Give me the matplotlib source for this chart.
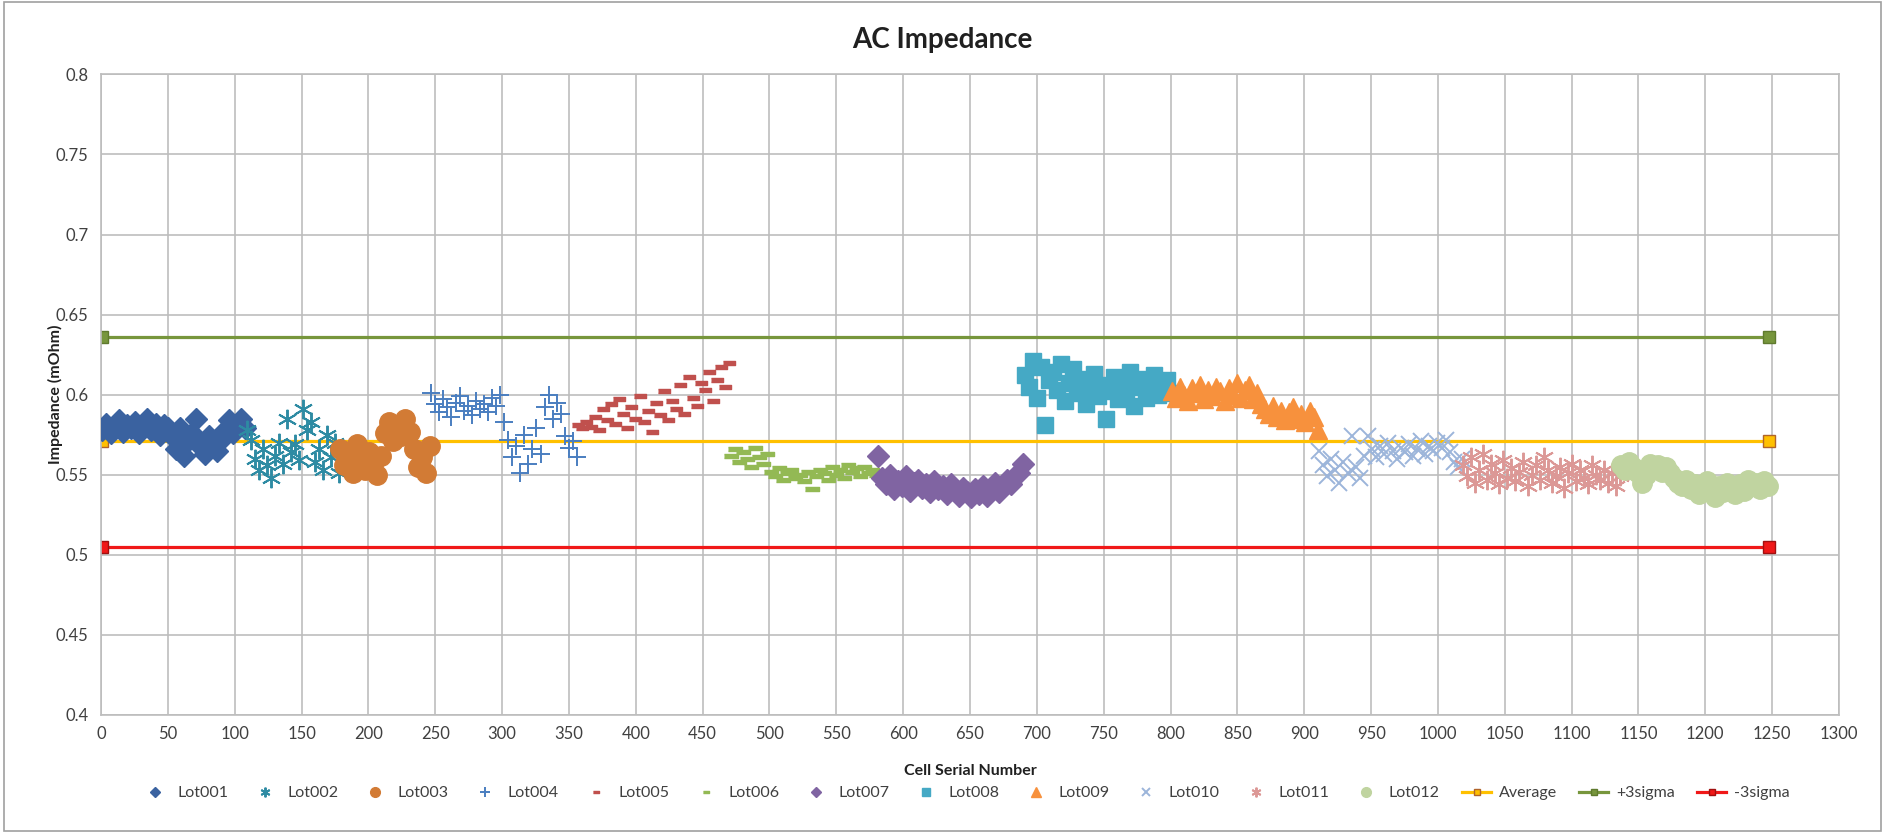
"""AC impedance per cell, grouped by production lot."""

import numpy as np
import matplotlib
matplotlib.use("Agg")
import matplotlib.pyplot as plt
from matplotlib.patches import Rectangle

plt.rcParams['font.family'] = ['Lato', 'DejaVu Sans']

# ---- data --------------------------------------------------------------
lot_names = ["Lot001", "Lot002", "Lot003", "Lot004", "Lot005", "Lot006",
             "Lot007", "Lot008", "Lot009", "Lot010", "Lot011", "Lot012"]

# first / last cell serial number of each lot
lot_first = [1, 109, 179, 247, 357, 471, 581, 691, 801, 911, 1019, 1137]
lot_last = [108, 178, 246, 356, 470, 580, 690, 800, 910, 1018, 1136, 1247]

lot001 = [0.578, 0.582, 0.576, 0.580, 0.584, 0.577, 0.581, 0.579, 0.583,
          0.576, 0.580, 0.585, 0.578, 0.582, 0.575, 0.581, 0.579,
          0.574, 0.566, 0.579, 0.562, 0.571, 0.576, 0.585, 0.568, 0.563,
          0.574, 0.570, 0.565, 0.572,
          0.578, 0.584, 0.576, 0.582, 0.585, 0.579]
lot002 = [0.578, 0.572, 0.560, 0.553, 0.566, 0.556,
          0.548, 0.562, 0.570, 0.557, 0.585, 0.564, 0.569, 0.559,
          0.591, 0.578, 0.583, 0.558, 0.566, 0.553, 0.575, 0.561, 0.570, 0.551]
lot003 = [0.566, 0.556, 0.561, 0.551, 0.569, 0.559, 0.553, 0.564, 0.557,
          0.550, 0.562,
          0.576, 0.583, 0.571, 0.579, 0.574, 0.585, 0.577,
          0.566, 0.555, 0.561, 0.551, 0.568]
lot004 = [0.601, 0.594, 0.589, 0.597, 0.592, 0.586, 0.595, 0.599, 0.590,
          0.593, 0.587, 0.596, 0.591, 0.594, 0.589, 0.598, 0.593, 0.600,
          0.583, 0.572, 0.561, 0.568, 0.551, 0.575, 0.557, 0.566, 0.579,
          0.563,
          0.592, 0.600, 0.585, 0.595, 0.588,
          0.574, 0.567, 0.571, 0.561]
lot005 = [0.581, 0.579, 0.583, 0.580, 0.586, 0.578, 0.591, 0.584,
          0.594, 0.582, 0.597, 0.588, 0.579, 0.592, 0.585, 0.599, 0.583,
          0.590, 0.577, 0.595, 0.587,
          0.602, 0.584, 0.596, 0.591, 0.606, 0.588, 0.611, 0.598, 0.593,
          0.607, 0.603, 0.614, 0.596, 0.609, 0.617, 0.605, 0.620]
lot006 = [0.562, 0.566, 0.558, 0.564, 0.560, 0.555, 0.567, 0.561, 0.557,
          0.563,
          0.552, 0.549, 0.554, 0.547, 0.551, 0.553, 0.548, 0.550, 0.546,
          0.552, 0.541, 0.549, 0.553, 0.551, 0.547, 0.555, 0.550, 0.553,
          0.548, 0.556, 0.552, 0.554, 0.549, 0.555, 0.551, 0.553, 0.550]
lot007 = [0.562, 0.548, 0.544, 0.550, 0.541, 0.546, 0.543, 0.549, 0.540,
          0.545, 0.547, 0.542, 0.544, 0.539, 0.546, 0.541, 0.543, 0.538,
          0.544, 0.540, 0.537, 0.542, 0.539, 0.536, 0.541, 0.538, 0.543,
          0.537, 0.540, 0.545, 0.539, 0.543, 0.547, 0.544, 0.549, 0.551,
          0.557]
lot008 = [0.612, 0.605, 0.621, 0.598, 0.617, 0.581, 0.609, 0.614, 0.603,
          0.619, 0.596, 0.607, 0.616, 0.601, 0.610, 0.594, 0.604, 0.613,
          0.599, 0.606, 0.585, 0.602, 0.611, 0.597, 0.608, 0.603, 0.614,
          0.593, 0.605, 0.610, 0.598, 0.607, 0.612, 0.600, 0.604, 0.609,
          0.601]
lot009 = [0.602, 0.598, 0.605, 0.600, 0.596, 0.604, 0.601, 0.606, 0.597,
          0.603, 0.599, 0.605, 0.602, 0.596, 0.604, 0.600, 0.607, 0.598,
          0.603, 0.606, 0.597, 0.601, 0.594,
          0.591, 0.588, 0.593, 0.586, 0.590, 0.584, 0.589, 0.592, 0.585,
          0.588, 0.583, 0.590, 0.586, 0.578]
lot010 = [0.565, 0.556, 0.549, 0.560, 0.553, 0.545, 0.558, 0.551, 0.574,
          0.555, 0.548, 0.562,
          0.574, 0.566, 0.561, 0.568, 0.563, 0.570, 0.565, 0.560, 0.567,
          0.564, 0.569, 0.562, 0.566, 0.571, 0.563, 0.568, 0.565, 0.570,
          0.567, 0.572, 0.564,
          0.558, 0.555, 0.560]
lot011 = [0.556, 0.549, 0.561, 0.545, 0.553, 0.563, 0.547, 0.557, 0.551,
          0.544, 0.559, 0.548, 0.554, 0.546, 0.552, 0.558, 0.543, 0.550,
          0.556, 0.547, 0.561, 0.553, 0.545, 0.549, 0.555, 0.542, 0.551,
          0.557, 0.546, 0.553, 0.548, 0.544, 0.556, 0.550, 0.547, 0.553,
          0.545, 0.551, 0.543, 0.549]
lot012 = [0.556, 0.553, 0.558, 0.555, 0.552, 0.545, 0.550, 0.557, 0.554,
          0.556, 0.552, 0.555, 0.551,
          0.548, 0.545, 0.543, 0.547, 0.541, 0.544, 0.538, 0.542, 0.546,
          0.540, 0.536, 0.543, 0.539, 0.545, 0.541, 0.538, 0.544, 0.540,
          0.547, 0.543, 0.545, 0.541, 0.546, 0.543]

lot_values = [lot001, lot002, lot003, lot004, lot005, lot006,
              lot007, lot008, lot009, lot010, lot011, lot012]

# control limits
limit_names = ["Average", "+3sigma", "-3sigma"]
limit_values = [0.571, 0.636, 0.505]
limit_span = [1, 1248]

x_ticks = np.arange(0, 1301, 50)
y_ticks = [0.4, 0.45, 0.5, 0.55, 0.6, 0.65, 0.7, 0.75, 0.8]

# ---- styles ------------------------------------------------------------
dash = [(-1, -0.32), (1, -0.32), (1, 0.32), (-1, 0.32)]
asterisk = (6, 2, 0)
lot_styles = [
    dict(marker="D", color="#3A62A0", ms=11),
    dict(marker=asterisk, color="#2E8BA3", ms=14, mew=1.4),
    dict(marker="o", color="#D27B35", ms=14),
    dict(marker="+", color="#4A7EC0", ms=13, mew=1.4),
    dict(marker=dash, color="#C0504D", ms=8.5),
    dict(marker=dash, color="#93B954", ms=10),
    dict(marker="D", color="#8064A2", ms=11),
    dict(marker="s", color="#45A9C5", ms=12),
    dict(marker="^", color="#F7913D", ms=13),
    dict(marker="x", color="#9CB5DA", ms=12, mew=1.4),
    dict(marker=asterisk, color="#DC9896", ms=14, mew=1.4),
    dict(marker="o", color="#C0D4A0", ms=14),
]
limit_styles = [
    dict(color="#FFC000", mfc="#FFC000", mec="#B0642A"),
    dict(color="#77963C", mfc="#77963C", mec="#5F7A2E"),
    dict(color="#F01818", mfc="#F01818", mec="#A01010"),
]

grid_color = "#BDBDBD"
text_color = "#404040"

# ---- figure ------------------------------------------------------------
fig = plt.figure(figsize=(18.85, 8.33), dpi=100)
ax = fig.add_axes([0.0536, 0.1417, 0.922, 0.769])

handles = []
for name, first, last, vals, st in zip(lot_names, lot_first, lot_last,
                                        lot_values, lot_styles):
    xs = np.linspace(first, last, len(vals))
    st = dict(st)
    color = st.pop("color")
    h, = ax.plot(xs, vals, linestyle="none", color=color, mfc=color,
                 mec=color, label=name, zorder=3, **st)
    handles.append(h)

for name, val, st in zip(limit_names, limit_values, limit_styles):
    h, = ax.plot(limit_span, [val, val], marker="s", ms=8.5, lw=2.3,
                 mew=1.0, label=name, zorder=2, **st)
    handles.append(h)

ax.set_xlim(0, 1300)
ax.set_ylim(0.4, 0.8)
ax.set_xticks(x_ticks)
ax.set_yticks(y_ticks)
ax.set_yticklabels([f"{v:g}" for v in y_ticks])
ax.grid(True, color=grid_color, lw=1.2, zorder=0)
ax.set_axisbelow(True)
for sp in ax.spines.values():
    sp.set_color(grid_color)
    sp.set_linewidth(1.2)
ax.tick_params(length=0, labelsize=12, colors=text_color)
ax.tick_params(axis="y", pad=9)
ax.tick_params(axis="x", pad=8)

fig.text(0.5, 0.952, "AC Impedance", fontsize=20, fontweight="bold",
         color="#202020", ha="center", va="center")
ax.set_xlabel("Cell Serial Number", fontsize=11.5, fontweight="bold",
              color="#202020")
ax.xaxis.set_label_coords(0.5, -0.077)
ax.set_ylabel("Impedance (mOhm)", fontsize=11.5, fontweight="bold",
              color="#202020")
ax.yaxis.set_label_coords(-0.022, 0.5)

leg = fig.legend(handles=handles, loc="center", ncol=15,
                 bbox_to_anchor=(0.512, 0.048), frameon=False,
                 fontsize=11.5, markerscale=0.5, handlelength=1.8,
                 handletextpad=0.5, columnspacing=1.4, labelcolor=text_color)

# thin frame round the chart area
fig.patches.append(Rectangle((0.002, 0.003), 0.996, 0.994,
                             transform=fig.transFigure, fill=False,
                             edgecolor="#A0A0A0", lw=1.2))

fig.savefig("out.png", dpi=100, facecolor="white")
